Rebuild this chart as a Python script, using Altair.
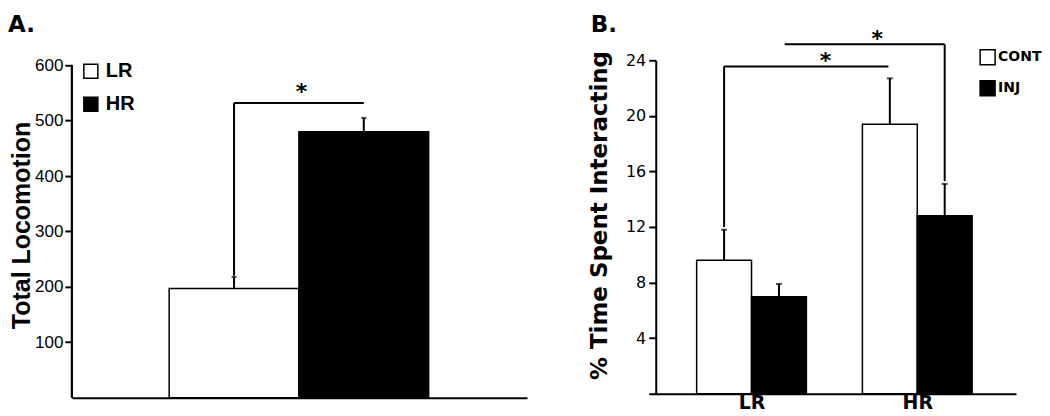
import altair as alt
import pandas as pd

# ---------------- Panel A data ----------------
a_groups = ["LR", "HR"]
a_pos = [0, 1]
a_means = [197, 480]
a_sems = [21, 25]
a_ticks = [100, 200, 300, 400, 500, 600]

# significance bracket A (data units)
a_br_x = [0, 1]
a_br_y = 532
a_br_drop = 220
a_star_x = [0.52]
a_star_y = [562]

# ---------------- Panel B data ----------------
b_groups = ["LR", "HR"]
b_pos = [0, 1]
b_conds = ["CONT", "INJ"]
b_cont_means = [9.6, 19.4]
b_cont_sems = [2.2, 3.3]
b_inj_means = [6.97, 12.8]
b_inj_sems = [0.93, 2.3]
b_ticks = [4, 8, 12, 16, 20, 24]

# brackets B: (x start, x end, y, drop x, drop to)
b_br1 = [-0.1655, 0.826, 23.56, -0.1655, 12.0]
b_br2 = [0.2, 1.1655, 25.15, 1.1655, 15.3]
b_star_x = [0.446, 0.759]
b_star_y = [24.37, 25.97]

# ---------------- layout parameters ----------------
A_W, A_H = 456, 338
B_W, B_H = 368, 334
A_BAR_W = 1.0
B_BAR_W = 0.331
A_X_DOMAIN = [-1.25, 2.258]
A_Y_DOMAIN = [0, 609]
B_X_DOMAIN = [-0.62, 1.596]
B_Y_DOMAIN = [0, 24]

FA = "Liberation Sans"
FB = "DejaVu Sans"

# ---------------- build tables ----------------
dfA = pd.DataFrame({
    "group": a_groups,
    "center": a_pos,
    "mean": a_means,
    "sem": a_sems,
})
dfA["x0"] = dfA["center"] - A_BAR_W / 2
dfA["x1"] = dfA["center"] + A_BAR_W / 2
dfA["top"] = dfA["mean"] + dfA["sem"]
dfA["base"] = 0

rowsB = []
for gi, g in enumerate(b_groups):
    for ci, c in enumerate(b_conds):
        m = (b_cont_means if c == "CONT" else b_inj_means)[gi]
        s = (b_cont_sems if c == "CONT" else b_inj_sems)[gi]
        cen = b_pos[gi] + (ci - 0.5) * B_BAR_W
        rowsB.append({"group": g, "cond": c, "center": cen,
                      "x0": cen - B_BAR_W / 2, "x1": cen + B_BAR_W / 2,
                      "mean": m, "top": m + s, "base": 0})
dfB = pd.DataFrame(rowsB)

a_h = pd.DataFrame({"x": [a_br_x[0]], "x2": [a_br_x[1]], "y": [a_br_y]})
a_v = pd.DataFrame({"x": [a_br_x[0]], "y": [a_br_y], "y2": [a_br_drop]})
a_s = pd.DataFrame({"x": a_star_x, "y": a_star_y, "t": ["*"]})

b_h = pd.DataFrame({"x": [b_br1[0], b_br2[0]], "x2": [b_br1[1], b_br2[1]],
                    "y": [b_br1[2], b_br2[2]]})
b_v = pd.DataFrame({"x": [b_br1[3], b_br2[3]], "y": [b_br1[2], b_br2[2]],
                    "y2": [b_br1[4], b_br2[4]]})
b_s = pd.DataFrame({"x": b_star_x, "y": b_star_y, "t": ["*", "*"]})

# ---------------- Panel A ----------------
ax_A = alt.X("x0:Q", scale=alt.Scale(domain=A_X_DOMAIN, nice=False, zero=False),
             axis=alt.Axis(labels=False, ticks=False, title=None, grid=False,
                           domainColor="black", domainWidth=2))
ay_A = alt.Y("mean:Q", scale=alt.Scale(domain=A_Y_DOMAIN, nice=False),
             axis=alt.Axis(values=a_ticks, domain=False, grid=False, tickSize=7,
                           tickWidth=2, tickColor="black", labelFont=FA,
                           labelFontSize=17, labelColor="black", labelPadding=2,
                           title="Total Locomotion", titleFont=FA, titleFontSize=25,
                           titleFontWeight="bold", titleColor="black",
                           titleX=-37, titleY=165))

barsA = alt.Chart(dfA).mark_bar(stroke="black", strokeWidth=1.5).encode(
    x=ax_A, x2="x1:Q", y=ay_A, y2="base:Q",
    fill=alt.Fill("group:N", sort=a_groups,
                  scale=alt.Scale(domain=a_groups, range=["white", "black"]),
                  legend=alt.Legend(orient="none", legendX=9, legendY=1, title=None,
                                    symbolType="square", symbolSize=196,
                                    symbolStrokeColor="black", symbolStrokeWidth=1.5,
                                    labelFont=FA, labelFontSize=20,
                                    labelFontWeight="bold", labelColor="black",
                                    labelOffset=5, rowPadding=13, padding=0)),
)
yaxisA = alt.Chart(dfA).mark_rule(color="black", strokeWidth=2).encode(
    x=alt.value(0), y=alt.datum(0), y2=alt.datum(a_ticks[-1]))
errA = alt.Chart(dfA).mark_rule(color="black", strokeWidth=2).encode(
    x="center:Q", y="mean:Q", y2="top:Q")
capA = alt.Chart(dfA).mark_tick(orient="horizontal", size=5, thickness=2,
                                color="black").encode(x="center:Q", y="top:Q")
brAh = alt.Chart(a_h).mark_rule(color="black", strokeWidth=2).encode(
    x="x:Q", x2="x2:Q", y="y:Q")
brAv = alt.Chart(a_v).mark_rule(color="black", strokeWidth=2).encode(
    x="x:Q", y="y:Q", y2="y2:Q")
starA = alt.Chart(a_s).mark_text(font=FB, fontSize=22, fontWeight="bold",
                                 color="black", baseline="alphabetic", dy=13).encode(
    x="x:Q", y="y:Q", text="t:N")

panelA = alt.layer(barsA, yaxisA, errA, capA, brAh, brAv, starA).properties(
    width=A_W, height=A_H,
    title=alt.TitleParams("A.", anchor="start", frame="group", dx=-64, dy=-15,
                          font=FB, fontSize=23, fontWeight="bold", color="black"))

# ---------------- Panel B ----------------
label_expr = " : ".join(
    [f"datum.value == {p} ? '{g}'" for p, g in zip(b_pos[:-1], b_groups[:-1])]
    + [f"'{b_groups[-1]}'"])
ax_B = alt.X("x0:Q", scale=alt.Scale(domain=B_X_DOMAIN, nice=False, zero=False),
             axis=alt.Axis(values=b_pos, labelExpr=label_expr, ticks=False,
                           title=None, grid=False, domainColor="black",
                           domainWidth=2, labelFont=FB, labelFontSize=19,
                           labelFontWeight="bold", labelColor="black",
                           labelPadding=0))
ay_B = alt.Y("mean:Q", scale=alt.Scale(domain=B_Y_DOMAIN, nice=False),
             axis=alt.Axis(values=b_ticks, grid=False, offset=-7, tickSize=7,
                           tickWidth=2, tickColor="black", domainColor="black",
                           domainWidth=2, labelFont=FB, labelFontSize=16,
                           labelColor="black", labelPadding=3,
                           title="% Time Spent Interacting", titleFont=FB,
                           titleFontSize=23, titleFontWeight="bold",
                           titleColor="black", titleX=-44, titleY=155))

barsB = alt.Chart(dfB).mark_bar(stroke="black", strokeWidth=1.5).encode(
    x=ax_B, x2="x1:Q", y=ay_B, y2="base:Q",
    fill=alt.Fill("cond:N", sort=b_conds,
                  scale=alt.Scale(domain=b_conds, range=["white", "black"]),
                  legend=alt.Legend(orient="none", legendX=331, legendY=-11.5, title=None,
                                    symbolType="square", symbolSize=225,
                                    symbolStrokeColor="black", symbolStrokeWidth=1.5,
                                    labelFont=FB, labelFontSize=14,
                                    labelFontWeight="bold", labelColor="black",
                                    labelOffset=2, rowPadding=10, padding=0)),
)
errB = alt.Chart(dfB).mark_rule(color="black", strokeWidth=2).encode(
    x="center:Q", y="mean:Q", y2="top:Q")
capB = alt.Chart(dfB).mark_tick(orient="horizontal", size=6, thickness=2,
                                color="black").encode(x="center:Q", y="top:Q")
brBh = alt.Chart(b_h).mark_rule(color="black", strokeWidth=2).encode(
    x="x:Q", x2="x2:Q", y="y:Q")
brBv = alt.Chart(b_v).mark_rule(color="black", strokeWidth=2).encode(
    x="x:Q", y="y:Q", y2="y2:Q")
starB = alt.Chart(b_s).mark_text(font=FB, fontSize=22, fontWeight="bold",
                                 color="black", baseline="alphabetic", dy=13).encode(
    x="x:Q", y="y:Q", text="t:N")

panelB = alt.layer(barsB, errB, capB, brBh, brBv, starB).properties(
    width=B_W, height=B_H,
    title=alt.TitleParams("B.", anchor="start", frame="group", dx=-58, dy=13,
                          font=FB, fontSize=23, fontWeight="bold", color="black"))

chart = alt.hconcat(panelA, panelB, spacing=122, bounds="flush").resolve_scale(
    fill="independent").resolve_legend(fill="independent").properties(
    padding={"left": 0, "top": 5, "right": 0, "bottom": 0}
).configure_view(stroke=None)

chart.save("out.html", embed_options={"renderer": "svg", "actions": False})
